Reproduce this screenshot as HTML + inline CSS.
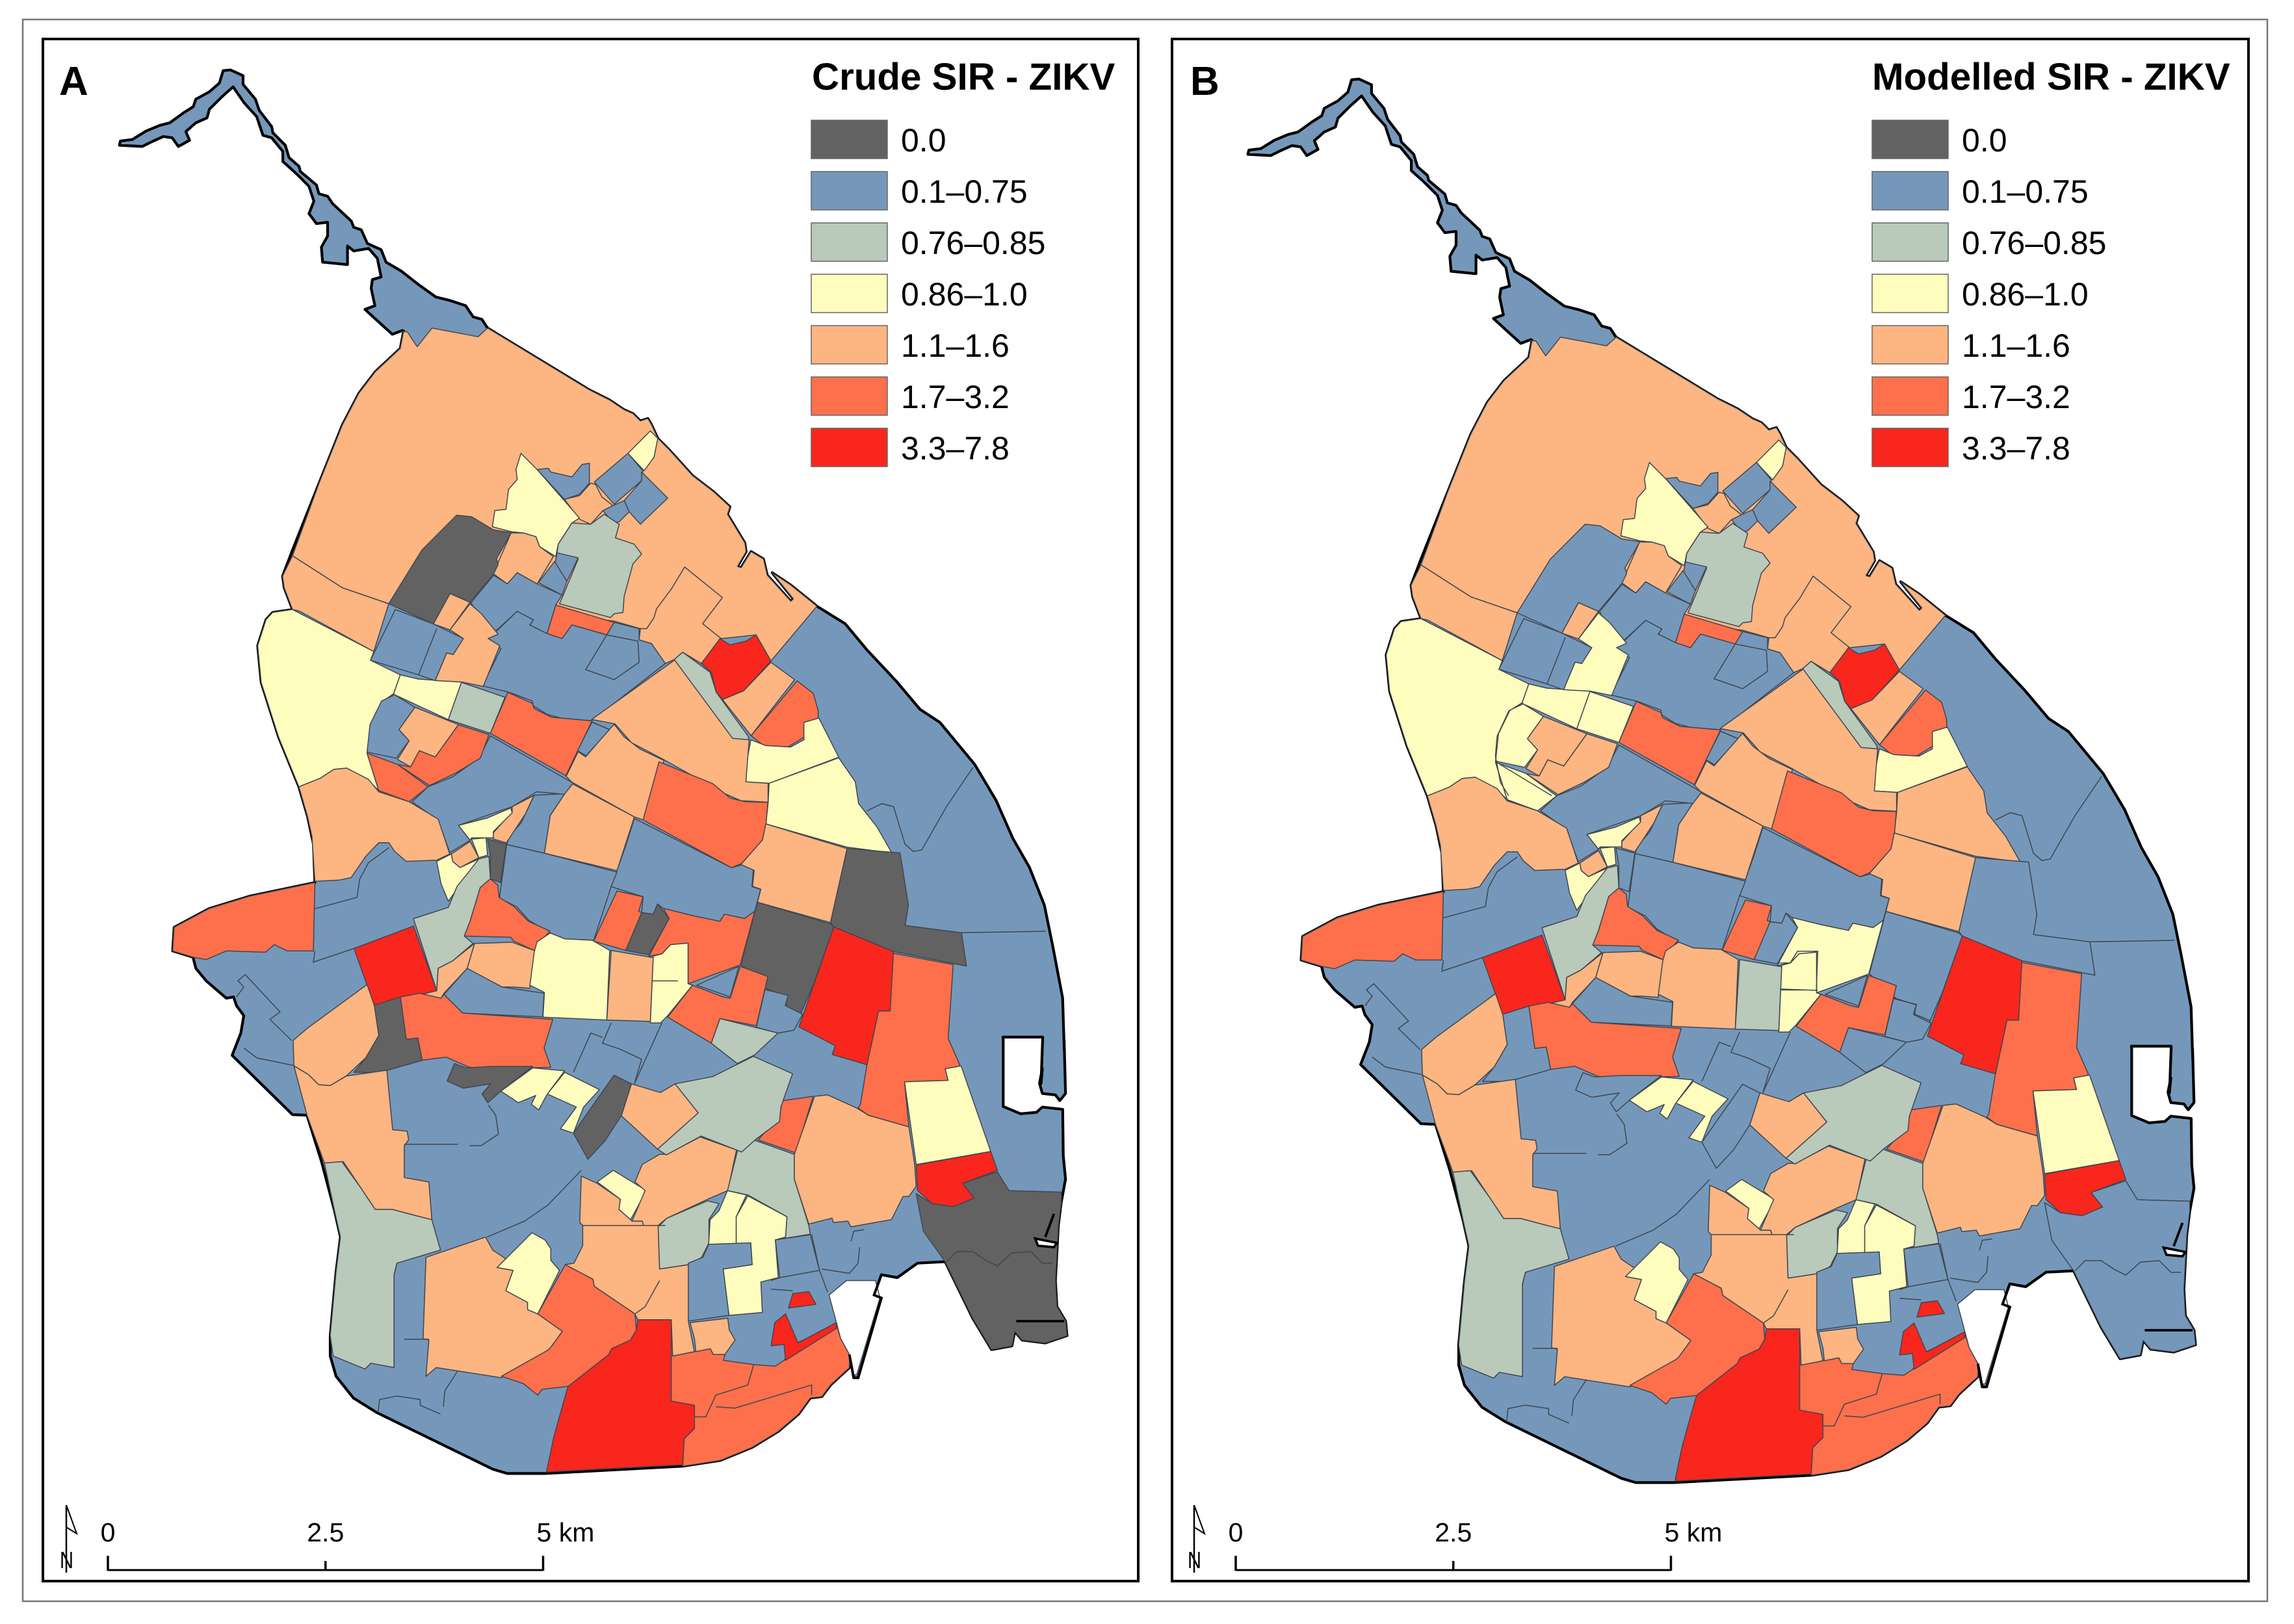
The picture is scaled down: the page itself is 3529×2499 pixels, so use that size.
<!DOCTYPE html>
<html lang="en">
<head>
<meta charset="utf-8">
<title>Crude and modelled SIR - ZIKV</title>
<style>
html,body{margin:0;padding:0;background:#fff;}
svg{display:block;font-family:"Liberation Sans",sans-serif;}
.region{stroke:#3f4650;stroke-width:1.5;stroke-linejoin:round;}
.inner-line{fill:none;stroke:#3f4650;stroke-width:1.5;}
.coast{stroke:#000;stroke-width:4.2;stroke-linejoin:round;}
.frame{fill:none;stroke:#000;stroke-width:4;}
</style>
</head>
<body>
<svg id="figure" width="3529" height="2499" viewBox="0 0 3529 2499" xmlns="http://www.w3.org/2000/svg">
  <rect x="0" y="0" width="3529" height="2499" fill="#fff"/>
  <rect x="35" y="30" width="3453" height="2434" fill="none" stroke="#777" stroke-width="2.5"/>
  <g id="panel-a">
    <rect class="frame" x="66" y="60" width="1685" height="2373"/>
    <text x="91" y="146" font-size="62" font-weight="bold">A</text>
    <text x="1249" y="138" font-size="58.3" font-weight="bold">Crude SIR - ZIKV</text>
  </g>
  <g id="panel-b">
    <rect class="frame" x="1803" y="60" width="1656" height="2373"/>
    <text x="1831" y="146" font-size="62" font-weight="bold">B</text>
    <text x="2880" y="138" font-size="58.3" font-weight="bold">Modelled SIR - ZIKV</text>
  </g>
</svg>
<script>
// ---- chart data ----
const binLabels = ["0.0","0.1\u20130.75","0.76\u20130.85","0.86\u20131.0","1.1\u20131.6","1.7\u20133.2","3.3\u20137.8"];
const binColors = ["#626262","#7598ba","#b9c9ba","#fefdbd","#fdb581","#fd704b","#f9261d"];
const scaleTicks = [0,2.5,5];
const scaleUnit = "km";

const regionNames = [
"north","northwest-lower","bay-interior","yellow-wedge","diamond-a","diamond-b","diamond-c","blue-irregular","orange-under-n","yellow-n",
"orange-under-yellow","gray-g","sage-n","blue-s1","blue-s2","blue-central-n","orange-red-l","blue-mid","blue-mid-inner","sage-strip",
"red-n","orange-e","orange-red-e","yellow-e-upper","yellow-e-lower","orange-nc","blue-small-c","orange-b","orange-red-c","blue-band",
"orange-d","blue-e","blue-f","blue-g","orange-wedge","yellow-sliver","yellow-small","orange-small","gray-small","yellow-lower",
"sage-long","orange-red-x","orange-below","orange-sliver","blue-y","red-square","gray-z","orange-red-w","orange-l","orange-sw",
"sage-sw","orange-s","yellow-s","orange-red-s","red-s","orange-red-se","red-strip","red-small","orange-small-s","orange-cs",
"yellow-c","orange-c2","sage-c","yellow-a","yellow-b","sage-e","blue-left","blue-r","orange-red-e2","orange-e-large",
"orange-red-long","yellow-east","red-east","gray-se","gray-h","gray-i","orange-z3","red-big","orange-red-k","gray-l",
"orange-red-m","yellow-n2","yellow-o","orange-p","orange-red-n2","blue-tri","blue-right","sage-q","sage-r","orange-t",
"gray-t","yellow-u","yellow-v","gray-w","yellow-west","yellow-mid","blue-pair","orange-n3","orange-n4","sage-z2",
"orange-red-z2","blue-z2","blue-z2w","orange-z2","orange-red-z2b","orange-red-z2c","orange-w","orange-red-far"
];
const crudeBins = [
4,4,4,3,1,1,1,1,4,3,
4,0,2,1,1,1,5,1,1,2,
6,4,5,3,3,4,1,4,5,1,
4,1,1,1,4,3,3,4,0,3,
2,5,4,4,1,6,0,5,4,4,
2,4,3,5,6,5,6,6,4,4,
3,4,2,3,3,2,1,1,5,4,
5,3,6,0,0,0,4,6,5,0,
5,3,3,4,5,1,1,2,2,4,
0,3,3,0,3,3,1,4,4,2,
5,1,1,4,5,5,4,5
];
const modelledBins = [
4,4,4,3,1,1,1,1,4,3,
4,1,2,1,1,1,5,1,1,2,
6,4,5,3,4,4,1,4,5,1,
4,1,1,1,4,3,3,4,1,3,
2,5,4,4,1,6,1,5,4,4,
2,4,3,5,6,5,6,6,4,4,
3,4,2,3,3,2,1,1,5,4,
5,3,6,1,1,1,4,6,5,1,
3,3,4,2,5,1,1,1,2,4,
1,3,3,1,3,3,1,4,3,3,
5,1,3,4,4,3,4,5
];

// ---- map geometry (outline tracing) ----
const sheets = {
  Z1:[200,400,.5102,.4464], Z2:[250,1050,.4464,.3827], Z3:[900,1000,.5102,.4464],
  Z4:[450,1600,.4464,.4464], Z5:[1050,1600,.4464,.4464], Z9:[150,80,.3827,.3827],
  Z10:[700,600,.3827,.3827], Z11:[650,1150,.4464,.4464],
  Z6B:[414,986,.5102,.5102], Z12B:[864,1336,.4464,.4464]
};
const silhouette = "Z9 88 375 92 358 140 352 195 318 250 295 290 285 345 245 385 220 395 190 450 160 490 125 505 75 535 72 585 95 585 130 635 190 650 235 700 300 705 325 755 375 770 425 810 460 815 480 880 535 890 570 925 580 945 610 1020 680 1030 705 1060 715 1085 770 1140 795 1160 845 1220 880 1290 935 1360 985 1420 1000 1480 1020 1510 1065 1545 1075 1568 1110 Z10 540 0 620 40 680 80 715 95 745 125 775 115 790 140 815 195 860 240 955 345 1040 410 1105 470 1095 500 1165 615 1170 650 1135 710 1150 715 1190 650 1240 680 1255 745 1350 850 1360 840 1275 735 1350 785 1455 870 1568 940 Z3 850 0 940 110 1010 205 1070 250 1175 395 1240 520 1290 650 1340 750 1385 880 1410 1020 1440 1200 1445 1380 Z5 1315 0 1320 185 1300 210 1285 190 1240 185 1230 150 1240 100 Z3 1375 1495 1380 1335 1260 1335 Z5 1105 0 1105 230 1165 255 1220 250 1240 232 1310 240 1312 400 1320 480 1305 560 1295 640 1285 830 1290 920 1320 970 1325 1020 1250 1045 1170 1035 1145 1005 1135 1055 1065 1068 1000 960 905 765 810 770 740 820 685 810 660 880 685 890 605 1165 590 1165 575 1085 575 1130 510 1190 480 1230 440 1235 400 1290 330 1350 240 1405 130 1450 0 1470 Z4 870 1495 740 1495 690 1480 290 1285 210 1235 150 1160 130 1090 130 1020 150 800 165 680 145 590 100 420 50 260 0 258 Z2 240 1500 270 1410 280 1340 255 1300 245 1265 220 1270 150 1200 115 1150 105 1105 35 1080 40 985 160 910 300 860 525 805 520 650 500 540 470 420 400 220 340 0 Z1 385 1330 410 1240 430 1215 490 1205 465 1130 460 1090 490 1000 570 770 640 570 690 460 740 385 815 305 825 245 Z9 1225 1120 1185 1135 1135 1090 1075 1035 1115 1020 1100 950 1105 915 1140 905 1125 830 1090 790 1030 800 1005 780 1005 855 905 845 900 785 925 740 925 685 880 690 850 650 870 600 850 540 800 490 745 440 745 400 700 345 665 335 640 260 590 205 545 140 500 180 450 230 440 265 395 285 355 320 370 355 325 380 300 345 265 340 220 360 180 380";
const regionShapes = {
"north":"Z9 1225 1125 1245 1125 1285 1185 1345 1110 1530 1145 1568 1110 Z10 540 0 620 40 680 80 715 95 745 125 775 115 790 140 815 195 860 240 955 345 1040 410 1105 470 1095 500 1165 615 1170 650 1135 710 1150 715 1190 650 1240 680 1255 745 1350 850 1360 840 1275 735 1350 785 1455 870 1270 1090 1210 985 1070 1000 990 1100 915 1055 880 1085 845 1100 790 1020 740 1005 745 960 640 930 65 855 Z1 780 1185 640 1130 490 1020 570 770 640 570 690 460 740 385 815 305 825 245",
"northwest-lower":"Z1 490 1020 640 1130 780 1185 735 1350 510 1210 490 1205 465 1130 460 1090",
"bay-interior":"Z10 923 712 1075 835 995 940 1070 1000 990 1100 915 1055 880 1085 845 1100 790 1020 740 1005 745 960 770 960 800 915 810 880 870 800",
"yellow-wedge":"Z10 785 165 815 195 800 270 760 325 695 255",
"diamond-a":"Z10 695 255 755 325 750 365 640 460 560 370",
"diamond-b":"Z10 750 330 855 435 745 540 700 490 680 445 750 365",
"diamond-c":"Z10 680 445 700 490 660 530 635 535 595 485 635 465",
"blue-irregular":"Z10 330 320 375 315 385 330 470 350 510 300 540 295 540 375 500 420 470 430 440 440",
"orange-under-n":"Z10 440 440 500 425 545 375 565 380 590 430 635 465 595 485 545 540 500 520",
"yellow-n":"Z10 265 255 330 320 500 515 470 535 415 620 405 670 340 630 325 590 275 575 225 570 150 550 160 485 205 480 215 400 250 360 245 320",
"orange-under-yellow":"Z10 225 575 275 575 325 590 340 630 395 670 330 780 250 735 210 780 155 740 175 690",
"gray-g":"Z1 985 880 1030 885 1095 930 1150 940 1105 1030 1110 1050 1095 1085 1025 1180 965 1150 915 1255 780 1185 880 1000",
"sage-n":"Z10 470 535 545 540 600 500 660 540 645 595 720 620 750 660 715 700 680 830 675 895 640 900 625 915 420 860 435 825 495 680 410 655 415 620",
"blue-s1":"Z10 410 655 495 675 450 770 400 710",
"blue-s2":"Z10 400 690 450 770 430 825 335 775",
"blue-central-n":"Z10 155 745 210 780 250 735 330 780 430 825 405 865 370 980 300 945 315 925 250 890 130 1000 65 855",
"orange-red-l":"Z10 405 865 640 935 610 985 470 945 430 1000 370 980",
"blue-mid":"Z10 250 890 315 925 300 945 370 980 430 1000 470 945 610 985 640 935 740 960 740 1005 790 1020 845 1100 550 1330 430 1320 370 1305 315 1270 310 1250 215 1215 110 1190 185 1040 130 1005",
"blue-mid-inner":"Z10 610 985 735 1010 740 1095 640 1165 525 1125",
"sage-strip":"Z10 880 1085 915 1055 1025 1135 1050 1215 1180 1395 1180 1410 1115 1410 1095 1390",
"red-n":"Z10 990 1100 1065 1000 1105 1025 1170 1010 1210 985 1270 1090 1160 1210 1075 1245 1050 1215 1030 1135",
"orange-e":"Z10 1270 1095 1365 1165 1190 1390 1075 1245 1160 1210",
"orange-red-e":"Z10 1375 1170 1440 1220 1460 1290 1460 1325 1405 1345 1405 1395 1340 1435 1240 1430 1190 1390",
"yellow-e-upper":"Z3 500 310 545 330 620 335 660 310 660 250 705 235 765 370 555 460 485 455 490 370",
"yellow-e-lower":"Z3 555 460 765 372 815 455 825 530 880 610 925 700 790 680 545 600 552 530",
"orange-nc":"Z3 270 35 445 305 495 310 485 455 552 460 552 525 470 520 420 495 240 380 140 320 90 255 20 240",
"blue-small-c":"Z10 550 1335 620 1365 525 1475 495 1455",
"orange-b":"Z10 620 1365 640 1345 680 1395 745 1445 840 1490 Z11 760 250 730 240 515 120 495 100 Z10 495 1455 525 1475",
"orange-red-c":"Z11 815 50 1000 125 1060 175 1110 187 1190 190 1180 310 1100 400 1065 415 760 250",
"blue-band":"Z11 730 245 1065 415 1100 405 1140 420 1135 480 1165 490 1145 565 1110 590 1040 575 1025 600 930 580 830 555 810 540 795 575 755 570 760 515 680 490 650 480 700 340",
"orange-d":"Z11 515 125 730 240 670 425 420 365 440 235 490 160",
"blue-e":"Z11 290 335 420 365 670 430 650 480 590 665 490 660 440 640 365 595 325 550 265 520",
"blue-f":"Z11 385 165 490 160 440 235 420 365 290 335 300 305 340 260",
"blue-g":"Z2 860 480 915 420 1000 380 1090 305 1130 215 1415 405 1385 450 1290 440 1205 500 1020 575 1060 635 990 685 950 555",
"orange-wedge":"Z2 1280 455 1205 500 1205 520 1140 605 1140 630 1185 645 1250 530",
"yellow-sliver":"Z2 1020 575 1120 545 1200 505 1205 525 1140 600 1140 625 1065 625 1060 635",
"yellow-small":"Z2 1065 630 1115 625 1120 695 1090 705",
"orange-small":"Z2 995 690 1060 640 1090 705 1025 745 1000 720",
"gray-small":"Z2 1120 630 1185 650 1165 805 1130 790 1130 700",
"yellow-lower":"Z2 945 720 995 690 1000 720 1025 745 1090 710 1040 790 985 880 960 810",
"sage-long":"Z2 1090 710 1125 700 1130 790 1095 825 1060 960 1040 1020 1070 1050 1000 1120 950 1150 945 1240 865 950 985 905 1015 820 1050 770",
"orange-red-x":"Z2 1130 790 1155 815 1160 865 1210 900 1260 960 1335 1000 1290 1060 1285 1080 1210 1040 1200 1025 1040 1020 1060 960 1095 825",
"orange-below":"Z2 1075 1050 1205 1045 1285 1080 1265 1230 1210 1225 1170 1225 1050 1150",
"orange-sliver":"Z2 1000 1120 1075 1050 1050 1150 970 1250 960 1270 930 1275 885 1250 945 1240 950 1150",
"blue-y":"Z2 1050 1150 1170 1225 1315 1250 1310 1345 1035 1330 970 1255",
"red-square":"Z2 660 1070 865 980 945 1240 730 1300",
"gray-z":"Z2 725 1300 820 1265 840 1435 880 1430 895 1520 750 1568 660 1568 700 1510 745 1420",
"orange-red-w":"Z2 820 1265 885 1250 960 1270 970 1255 1035 1330 1345 1355 1315 1470 Z4 890 95 680 100 610 95 530 60 450 70 Z2 895 1520 880 1430 840 1435",
"orange-l":"Z2 450 1440 500 1390 705 1215 730 1300 745 1420 700 1510 Z4 185 125 130 158 90 155 55 120 5 90",
"orange-sw":"Z4 5 90 55 120 90 155 130 158 185 125 325 105 345 310 395 315 400 345 385 365 385 475 470 490 480 620 420 605 345 585 285 585 235 510 175 420 110 425 50 260",
"sage-sw":"Z4 110 425 170 420 235 510 285 585 345 585 420 605 480 620 510 725 360 770 350 810 350 1130 270 1115 250 1135 140 1090 130 1020 150 800 165 680 145 590",
"orange-s":"Z4 460 750 665 680 690 725 735 755 705 785 760 795 735 865 810 905 810 930 845 945 930 1005 890 1060 885 1070 720 1165 495 1130 460 1160 470 1035 450 1030",
"yellow-s":"Z4 825 665 870 690 890 720 890 760 920 795 845 945 810 930 810 905 735 865 760 795 705 785 735 755",
"orange-red-s":"Z4 940 775 1035 825 1040 850 1180 945 1185 1000 1165 1035 1100 1065 1090 1085 950 1195 860 1205 845 1225 795 1185 720 1160 880 1070 890 1060 930 1005 845 945",
"red-s":"Z4 1190 965 1305 965 1305 1245 1385 1260 1385 1340 1350 1375 1345 1465 875 1490 900 1370 945 1210 950 1195 1090 1085 1100 1065 1165 1035 1185 1000",
"orange-red-se":"Z4 1305 1090 1440 1065 1450 1085 1490 1085 1485 1105 Z5 140 1105 250 1120 320 1125 350 1105 395 1045 530 980 545 1030 575 1085 575 1130 510 1190 480 1230 440 1235 400 1290 330 1350 240 1405 130 1450 0 1470 Z4 1345 1465 1350 1375 1385 1340 1385 1260 1305 1245",
"red-strip":"Z5 305 1055 318 975 355 945 398 1045 530 975 530 995 355 1105 350 1050",
"red-small":"Z5 380 875 435 868 460 912 365 925",
"orange-small-s":"Z4 1370 975 1500 960 1505 1000 1525 1035 1490 1085 1450 1085 1440 1065 1390 1075 1385 1030",
"orange-cs":"Z4 995 470 1050 495 1130 550 1125 585 1165 620 1170 625 1205 625 1210 640 1285 640 1260 645 1265 790 1365 775 1365 975 1385 1075 1310 1090 1305 965 1190 965 1180 945 1040 850 1035 825 940 775 970 770 1000 710 1000 640 990 630",
"yellow-c":"Z4 1050 490 1105 450 1220 520 1165 620 1125 585 1130 550",
"orange-c2":"Z4 1180 490 1205 430 1265 395 1290 395 1405 335 1530 380 1500 520 1430 550 1290 615 1260 640 1210 640 1205 625 1170 625 1215 520",
"sage-c":"Z4 1260 645 1290 615 1430 555 1470 565 1435 620 1435 700 1410 750 1365 775 1265 790",
"yellow-a":"Z5 155 520 220 535 185 610 185 705 90 705 95 620 125 590",
"yellow-b":"Z5 225 538 360 610 355 680 320 690 330 820 270 835 275 940 160 950 140 790 240 775 235 700 185 705 185 610",
"sage-e":"Z5 190 380 245 345 385 395 385 480 435 640 440 670 320 690 355 680 360 610 225 535 155 520",
"blue-left":"Z5 90 705 235 700 240 775 140 790 160 950 20 970 20 770 70 750",
"blue-r":"Z5 320 690 440 672 472 795 335 820",
"orange-red-e2":"Z5 345 210 450 195 390 390 260 345 330 270",
"orange-e-large":"Z5 455 195 500 190 600 235 640 260 780 300 800 430 805 505 780 540 760 540 720 620 580 645 570 625 520 630 515 615 435 635 385 480 385 395",
"orange-red-long":"Z3 925 1045 1110 1085 1095 1340 1130 1430 Z5 950 95 905 100 915 140 765 145 780 300 640 260 605 235 Z3 830 1568 850 1430 885 1245 920 1245",
"yellow-east":"Z5 765 145 915 140 905 100 960 90 1062 385 805 430",
"red-east":"Z5 805 432 1062 385 1085 450 965 495 1005 545 935 575 860 565 810 520",
"gray-se":"Z5 805 530 860 565 935 575 1005 545 965 495 1085 455 1125 520 1305 525 1305 560 1295 640 1285 830 1290 920 1320 970 1325 1020 1250 1045 1170 1035 1145 1005 1135 1055 1065 1068 1000 960 905 765 830 660",
"gray-h":"Z3 520 870 740 945 750 955 690 1150 650 1255 605 1240 610 1195 550 1170 470 1085",
"gray-i":"Z3 790 685 950 700 975 880 965 950 1135 975 1150 1090 930 1040 750 955 740 940",
"orange-z3":"Z3 545 600 790 685 740 940 520 870 530 825 505 815 510 760 470 740 535 655",
"red-big":"Z3 750 955 930 1040 920 1245 885 1245 850 1430 745 1395 755 1365 645 1300",
"orange-red-k":"Z11 670 495 760 515 745 565 765 575 700 700 590 668",
"gray-l":"Z11 755 570 795 575 810 540 850 590 780 715 700 700",
"orange-red-m":"Z11 830 555 930 580 1025 600 1040 575 1110 590 1145 565 1095 750 915 815 915 675 855 680 825 712 780 720 850 590",
"yellow-n2":"Z11 855 680 915 675 915 815 930 820 845 925 820 950 785 950 795 720 825 712",
"yellow-o":"Z11 440 640 490 660 585 665 645 700 635 940 415 930 420 845 370 820 385 705 395 670",
"orange-p":"Z11 650 700 795 725 785 945 635 940",
"orange-red-n2":"Z11 930 820 1035 860 1060 865 1095 755 1190 790 1150 960 1025 935 995 1020 845 930",
"blue-tri":"Z11 945 820 1090 755 1060 860",
"blue-right":"Z11 1180 835 1260 855 1250 890 1310 920 1280 975 1225 985 1150 965",
"sage-q":"Z11 1025 935 1225 985 1145 1060 1085 1090 995 1020",
"sage-r":"Z11 870 1160 1000 1135 1140 1065 1275 1125 1235 1240 1230 1290 1150 1350 1100 1395 960 1340 840 1405 810 1385 950 1260",
"orange-t":"Z11 720 1160 820 1190 870 1160 950 1260 810 1385 685 1270",
"gray-t":"Z11 660 1130 720 1160 685 1270 630 1355 570 1420 520 1330",
"yellow-u":"Z11 490 1120 610 1180 555 1240 520 1330 475 1315 530 1240 430 1195",
"yellow-v":"Z11 380 1105 490 1115 430 1195 400 1250 375 1230 390 1200 330 1225 270 1185",
"gray-w":"Z11 110 1090 150 1105 240 1100 380 1100 270 1185 225 1225 205 1195 235 1160 140 1175 85 1150",
"yellow-west":"Z1 490 1205 735 1350 725 1380 815 1430 795 1495 Z2 760 75 720 165 705 285 745 435 710 395 635 345 590 350 545 385 470 420 400 220 340 0 Z1 385 1330 410 1240 430 1215",
"yellow-mid":"Z1 815 1430 870 1445 1000 1455 Z2 985 150 800 50 Z1 795 1495",
"blue-pair":"Z1 800 1205 915 1255 1005 1305 975 1360 955 1355 920 1450 870 1430 725 1380",
"orange-n3":"Z1 965 1150 1025 1180 965 1275 915 1255",
"orange-n4":"Z1 1025 1185 1060 1220 1110 1290 1080 1305 1115 1330 1065 1470 1000 1455 920 1450 955 1355 975 1360 1005 1305 965 1275",
"sage-z2":"Z2 1030 0 1180 60 1130 205 985 150",
"orange-red-z2":"Z2 1190 40 1275 85 1280 105 1340 140 1480 155 1390 375 1130 205",
"blue-z2":"Z2 1480 160 1540 190 1460 295 1430 275",
"blue-z2w":"Z2 800 50 870 100 815 190 850 235 805 305 705 280 715 170 755 75",
"orange-z2":"Z2 870 100 1020 170 940 300 885 275 855 340 810 310 850 235 815 190",
"orange-red-z2b":"Z2 1020 170 1125 210 1095 305 1010 365 920 415 810 330 855 340 885 275 940 300",
"orange-red-z2c":"Z2 705 285 810 330 915 420 850 480 745 435",
"orange-w":"Z2 470 420 545 385 590 350 635 345 710 390 745 440 850 480 950 550 990 690 945 715 840 720 800 680 780 645 745 645 700 700 650 785 610 795 525 800 515 620 500 540",
"orange-red-far":"Z2 525 805 300 860 160 910 40 985 35 1080 105 1105 150 1115 220 1080 355 1085 385 1055 430 1080 520 1080"
};
const sharedLines = [
"Z3 1170 405 1090 540 1015 690 990 695 965 670 930 540 895 530 850 555",
"Z3 1135 975 1390 970",
"Z2 525 910 670 865 680 790 710 725 780 665",
"Z2 525 1080 520 1125 660 1070",
"Z2 255 1265 280 1225 260 1200 285 1175 405 1325 370 1355 445 1440",
"Z2 280 1470 325 1510 450 1540",
"Z4 385 360 570 360",
"Z4 610 365 650 365 710 325 700 260 675 225",
"Z4 995 450 880 570 800 625 670 680",
"Z4 360 770 350 810 350 1130",
"Z4 385 1032 470 1032",
"Z4 570 1140 525 1210 520 1265",
"Z4 295 1285 300 1240 360 1228 440 1240 440 1260 510 1290",
"Z11 520 1120 580 985 620 1000",
"Z11 650 950 620 1020 680 1040 755 1075 730 1160",
"Z11 825 950 730 1160",
"Z5 245 1120 225 1190 115 1225 80 1300 40 1300",
"Z5 115 1265 180 1270 445 1190 445 1225",
"Z5 910 765 945 730 1000 730 1045 760 1085 780 1135 735 1200 730 1240 770 1275 770",
"Z5 445 670 472 795 500 870",
"Z5 580 695 590 660 625 655",
"Z5 610 715 605 770 575 805 480 790",
"Z5 305 860 380 865",
"Z5 305 830 335 820",
"Z11 790 805 880 805",
"Z4 1000 640 1285 640",
"Z4 1265 830 1215 920 1180 945",
"Z1 925 1270 870 1430"
];
const modelledOnlyLines = [
"Z6B 375 160 335 185 300 260 295 320 310 400 335 440",
"Z6B 300 340 465 440",
"Z12B 305 295 345 295 370 255 440 255 435 390",
"Z12B 310 385 440 390",
"Z12B 700 415 780 440 770 470 830 495"
];
const coastMarks = [
"Z5 1150 970 1315 970",
"Z5 1280 600 1250 680",
"Z5 685 810 660 880 685 890 605 1165 590 1165 575 1085"
];
const whitePocket = "Z5 505 880 565 830 665 830 680 890 600 1155 590 1155 575 1085 545 1030";
const whiteIsland = "Z5 1215 685 1290 700 1280 715 1225 710";

const svgNS = "http://www.w3.org/2000/svg";
function toPoints(shape){
  const parts = shape.trim().split(/\s+/);
  let sheet = null;
  const out = [];
  for (let i = 0; i < parts.length; ) {
    if (parts[i][0] === "Z") { sheet = sheets[parts[i]]; i++; continue; }
    const x = sheet[0] + parseFloat(parts[i]) * sheet[2];
    const y = sheet[1] + parseFloat(parts[i + 1]) * sheet[3];
    out.push(x.toFixed(1) + "," + y.toFixed(1));
    i += 2;
  }
  return out.join(" ");
}
function add(parent, tag, attrs){
  const el = document.createElementNS(svgNS, tag);
  for (const k in attrs) el.setAttribute(k, attrs[k]);
  parent.appendChild(el);
  return el;
}
function scaleX(km, origin){ return origin + km * (669.5 / 5); }

function drawMap(panelEl, panelKey, bins, dx, dy, extraLines){
  const g = add(panelEl, "g", {transform:"translate(" + dx + " " + dy + ")"});
  
  
  const base = add(g, "polygon", {points:toPoints(silhouette), fill:binColors[1], class:"coast"});
  
  
  regionNames.forEach(function(name, i){
    const p = add(g, "polygon", {points:toPoints(regionShapes[name]), fill:binColors[bins[i]], class:"region"});
    
    
  });
  sharedLines.concat(extraLines).forEach(function(line){
    const l = add(g, "polyline", {points:toPoints(line), class:"inner-line"});
    
    
  });
  const pocket = add(g, "polygon", {points:toPoints(whitePocket), fill:"#fff", stroke:"#3f4650", "stroke-width":"1.5"});
  
  
  const island = add(g, "polygon", {points:toPoints(whiteIsland), fill:"#fff", stroke:"#000", "stroke-width":"3.6"});
  
  
  coastMarks.forEach(function(line){
    const c = add(g, "polyline", {points:toPoints(line), fill:"none", stroke:"#000", "stroke-width":"3.8"});
    
    
  });
}
function drawLegend(panelEl, panelKey, boxX, textX){
  binLabels.forEach(function(label, i){
    const y = 185 + i * 79;
    const box = add(panelEl, "rect", {x:boxX, y:y, width:117, height:59, fill:binColors[i], stroke:"#666", "stroke-width":"1.5"});
    
    
    const t = add(panelEl, "text", {x:textX, y:y + 48, "font-size":"50", fill:"#000"});
    t.textContent = label;
    
    
  });
}
function drawScale(panelEl, panelKey, origin){
  const endX = scaleX(scaleTicks[scaleTicks.length - 1], origin);
  const bar = add(panelEl, "line", {x1:origin, y1:2416, x2:endX, y2:2416, stroke:"#000", "stroke-width":"3"});
  
  
  scaleTicks.forEach(function(km, i){
    const x = scaleX(km, origin);
    const isEnd = i === 0 || i === scaleTicks.length - 1;
    const tick = add(panelEl, "line", {x1:x, y1:isEnd ? 2394 : 2402, x2:x, y2:2417, stroke:"#000", "stroke-width":"3.5"});
    
    
    const last = i === scaleTicks.length - 1;
    const t = add(panelEl, "text", {x:last ? x - 10 : x, y:2372, "font-size":"41", "text-anchor":last ? "start" : "middle"});
    t.textContent = last ? km + " " + scaleUnit : String(km);
    
    
  });
}
function drawNorth(panelEl, panelKey, x){
  const shaft = add(panelEl, "line", {x1:x, y1:2316, x2:x, y2:2420, stroke:"#000", "stroke-width":"2.5"});
  
  
  const head = add(panelEl, "polyline", {points:x + ",2316 " + (x + 16) + ",2360 " + x + ",2350", fill:"none", stroke:"#000", "stroke-width":"2"});
  
  
  const n = add(panelEl, "text", {x:x - 10, y:2413, "font-size":"36", textLength:"21", lengthAdjust:"spacingAndGlyphs"});
  n.textContent = "N";
  
  
}
const panelA = document.getElementById("panel-a");
const panelB = document.getElementById("panel-b");
drawMap(panelA, "panel-a", crudeBins, 0, 0, []);
drawMap(panelB, "panel-b", modelledBins, 1736, 14, modelledOnlyLines);
drawLegend(panelA, "panel-a", 1248, 1386);
drawLegend(panelB, "panel-b", 2880, 3018);
drawScale(panelA, "panel-a", 166);
drawScale(panelB, "panel-b", 1901);
drawNorth(panelA, "panel-a", 102);
drawNorth(panelB, "panel-b", 1837);
</script>
</body>
</html>
